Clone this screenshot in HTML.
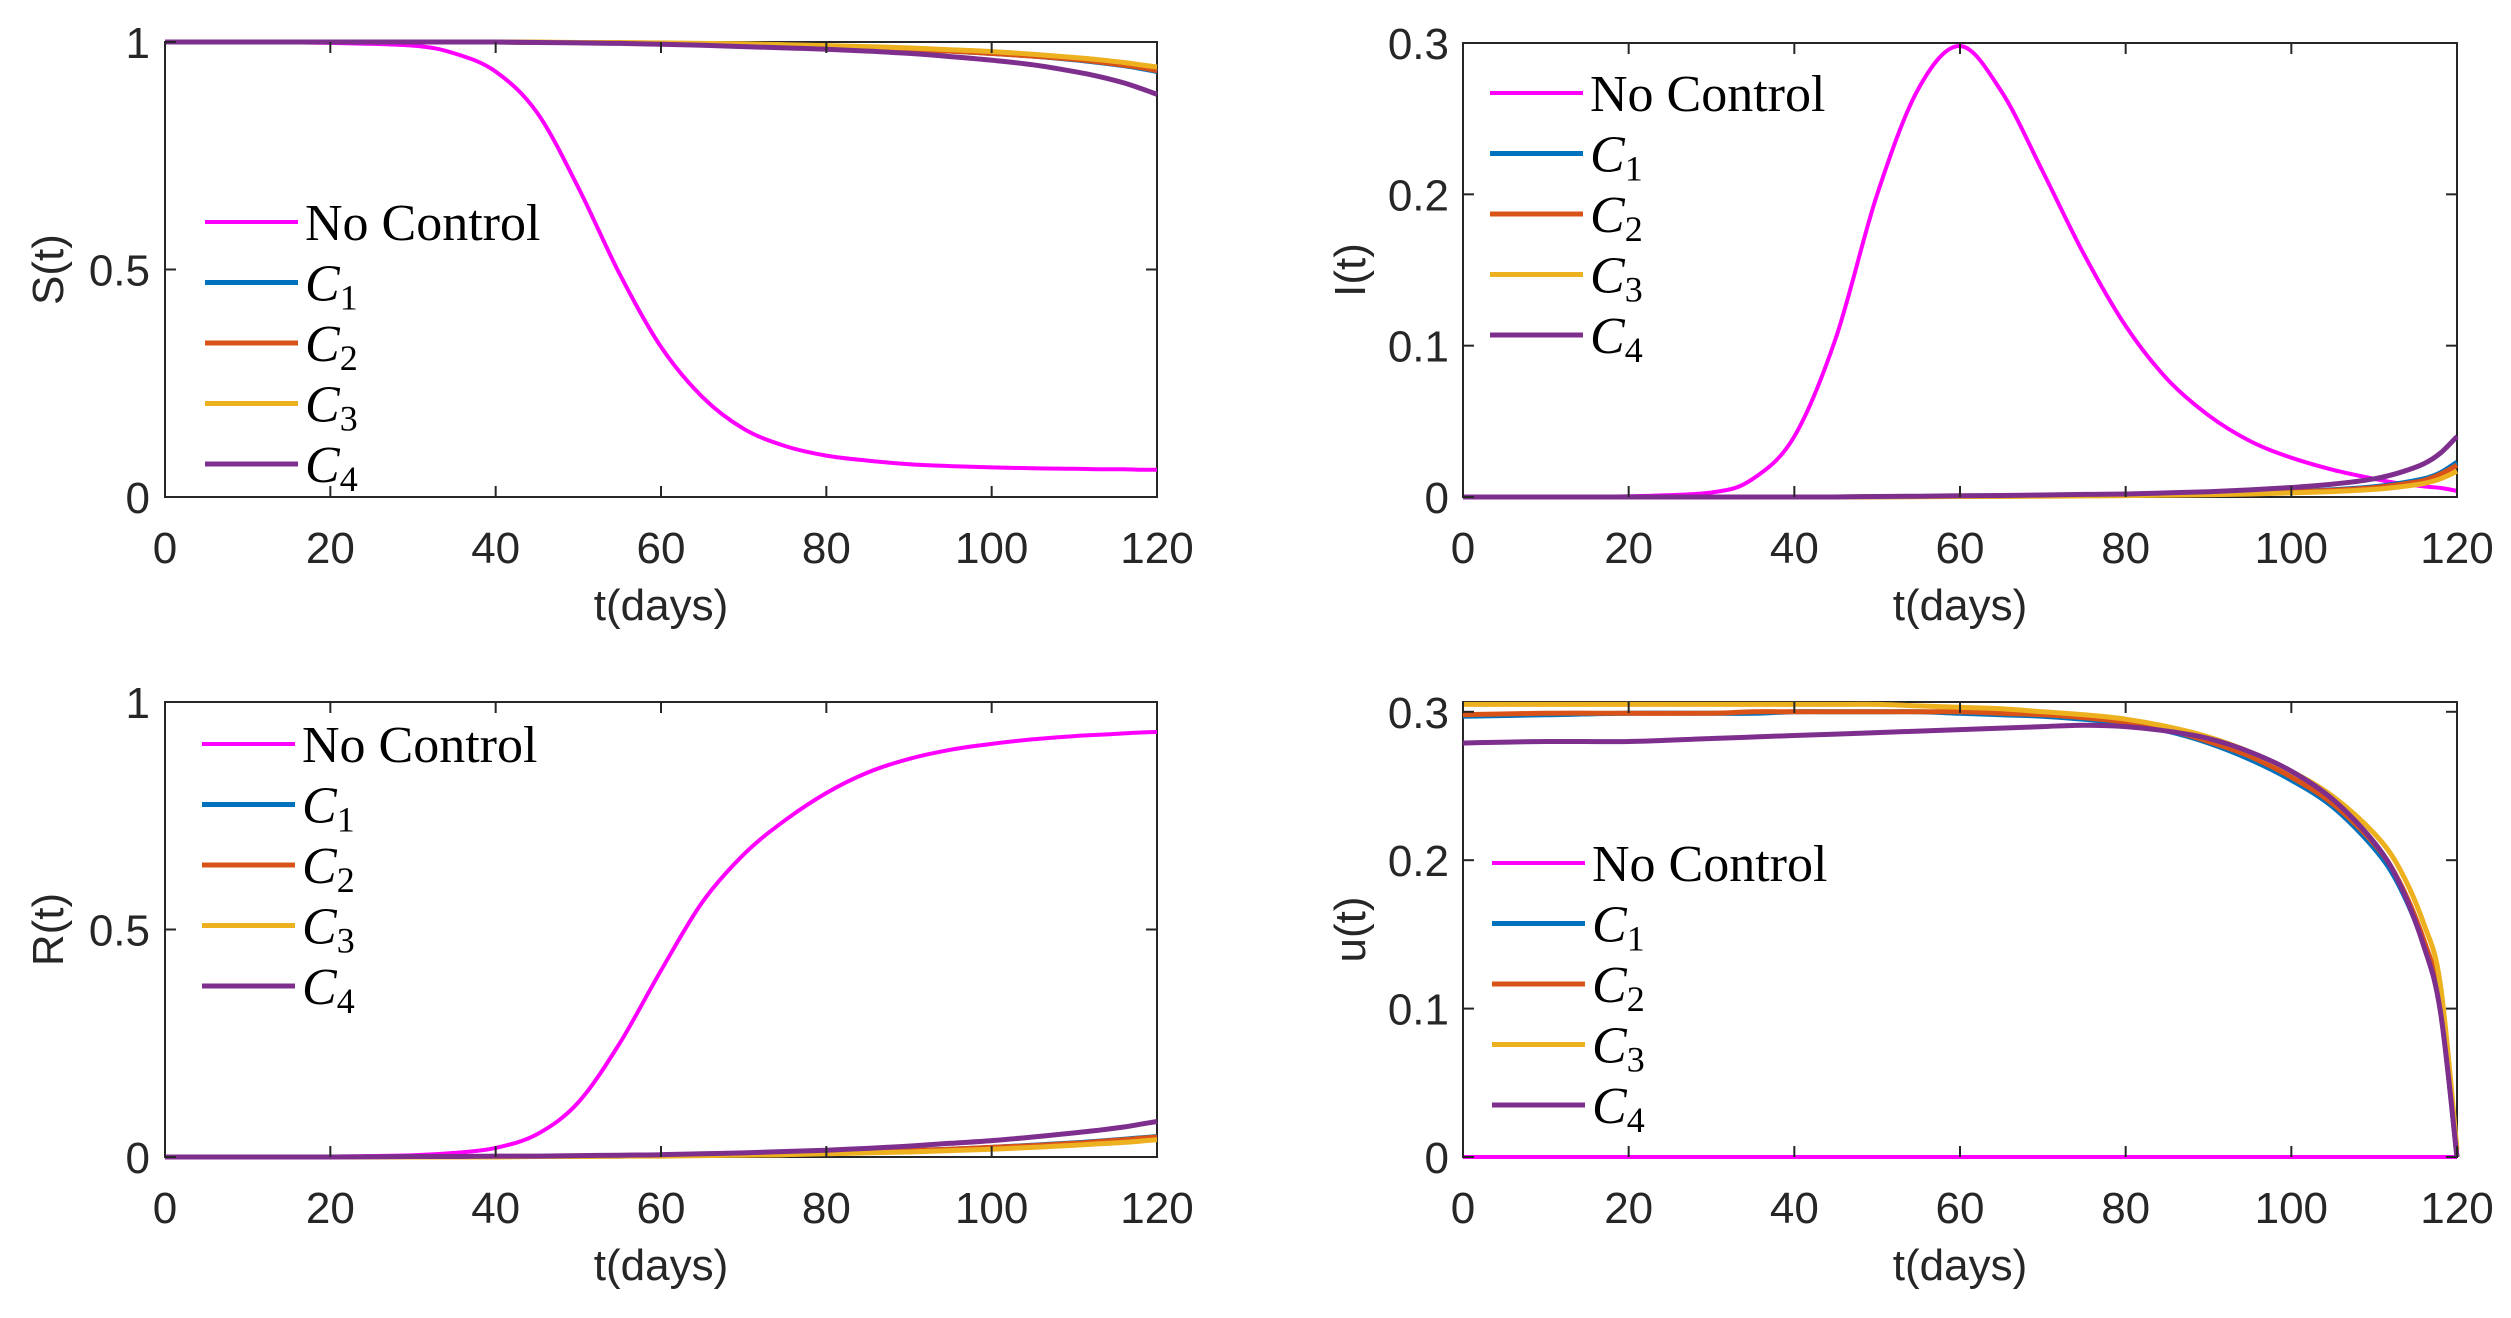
<!DOCTYPE html>
<html><head><meta charset="utf-8"><style>
html,body{margin:0;padding:0;background:#fff;}
svg{display:block;}
.tk{font-family:"Liberation Sans",sans-serif;font-size:44px;fill:#262626;}
.lg{font-family:"Liberation Serif",serif;font-size:52px;fill:#000;}
</style></head><body>
<svg id="fig" width="2511" height="1318" viewBox="0 0 2511 1318" xmlns="http://www.w3.org/2000/svg"></svg>
<script>
const T = [0,10,20,30,35,40,45,50,55,60,65,70,75,80,85,90,95,100,105,110,113,116,118,120];
const seriesNames = ["No Control","C1","C2","C3","C4"];
const S_nc = [1,1,0.998,0.992,0.975,0.935,0.845,0.68,0.49,0.33,0.22,0.15,0.112,0.091,0.08,0.072,0.068,0.065,0.063,0.062,0.061,0.061,0.06,0.06];
const S_c1 = [1,1,1,1,1,1,0.999,0.999,0.998,0.997,0.996,0.994,0.992,0.99,0.987,0.984,0.98,0.975,0.969,0.961,0.955,0.948,0.942,0.935];
const S_c2 = [1,1,1,1,1,1,0.999,0.999,0.998,0.997,0.996,0.994,0.992,0.99,0.987,0.984,0.98,0.975,0.969,0.962,0.956,0.949,0.944,0.937];
const S_c3 = [1,1,1,1,1,1,1,0.999,0.999,0.998,0.997,0.996,0.994,0.992,0.99,0.987,0.983,0.979,0.973,0.966,0.961,0.955,0.95,0.945];
const S_c4 = [1,1,1,1,1,1,0.999,0.998,0.997,0.995,0.993,0.99,0.987,0.984,0.98,0.975,0.968,0.96,0.95,0.935,0.924,0.91,0.898,0.885];
const I_nc = [0,0,0.0005,0.003,0.012,0.04,0.105,0.2,0.27,0.298,0.268,0.215,0.16,0.113,0.078,0.054,0.037,0.026,0.018,0.012,0.009,0.007,0.006,0.004];
const I_c1 = [0,0,0,0,0,0,0,0.0002,0.0003,0.0004,0.0006,0.0008,0.001,0.0012,0.0016,0.002,0.0027,0.0036,0.0048,0.0068,0.009,0.012,0.016,0.023];
const I_c2 = [0,0,0,0,0,0,0,0.0002,0.0003,0.0004,0.0005,0.0007,0.0009,0.0011,0.0014,0.0018,0.0025,0.0033,0.0044,0.0062,0.0082,0.011,0.015,0.021];
const I_c3 = [0,0,0,0,0,0,0,0.0001,0.0002,0.0003,0.0004,0.0005,0.0007,0.0009,0.0012,0.0015,0.002,0.0027,0.0036,0.005,0.0066,0.009,0.012,0.017];
const I_c4 = [0,0,0,0,0,0,0,0.0003,0.0005,0.0008,0.001,0.0013,0.0017,0.002,0.0027,0.0035,0.0047,0.0063,0.0085,0.012,0.016,0.022,0.029,0.04];
const R_nc = [0,0,0.001,0.004,0.009,0.02,0.05,0.12,0.25,0.41,0.56,0.665,0.74,0.8,0.845,0.875,0.895,0.908,0.918,0.925,0.928,0.931,0.933,0.934];
const R_c1 = [0,0,0,0,0,0.001,0.001,0.002,0.002,0.003,0.004,0.005,0.007,0.009,0.011,0.014,0.017,0.021,0.026,0.031,0.035,0.039,0.042,0.045];
const R_c2 = [0,0,0,0,0,0.001,0.001,0.002,0.002,0.003,0.004,0.005,0.007,0.009,0.011,0.014,0.017,0.021,0.025,0.03,0.034,0.038,0.041,0.044];
const R_c3 = [0,0,0,0,0,0,0.001,0.001,0.002,0.002,0.003,0.004,0.005,0.007,0.009,0.011,0.014,0.017,0.021,0.026,0.029,0.032,0.035,0.038];
const R_c4 = [0,0,0,0.001,0.001,0.002,0.002,0.003,0.004,0.005,0.007,0.009,0.012,0.015,0.019,0.024,0.03,0.036,0.044,0.053,0.059,0.066,0.072,0.078];
const U_nc = [0,0,0,0,0,0,0,0,0,0,0,0,0,0,0,0,0,0,0,0,0,0,0,0];
const U_c1 = [0.297,0.298,0.299,0.299,0.299,0.3,0.3,0.3,0.3,0.299,0.298,0.297,0.295,0.292,0.287,0.279,0.268,0.254,0.236,0.208,0.183,0.143,0.1,0];
const U_c2 = [0.298,0.299,0.299,0.299,0.3,0.3,0.3,0.3,0.3,0.3,0.299,0.298,0.296,0.293,0.288,0.28,0.27,0.256,0.238,0.211,0.186,0.146,0.104,0];
const U_c3 = [0.305,0.305,0.305,0.305,0.305,0.305,0.305,0.305,0.304,0.303,0.302,0.3,0.298,0.295,0.29,0.283,0.273,0.26,0.243,0.218,0.195,0.157,0.116,0.005];
const U_c4 = [0.279,0.28,0.28,0.282,0.283,0.284,0.285,0.286,0.287,0.288,0.289,0.29,0.291,0.29,0.287,0.282,0.273,0.26,0.241,0.212,0.185,0.142,0.098,0];
const xTicks = [0,20,40,60,80,100,120];
const yTicksS = [0,0.5,1];
const yTicksI = [0,0.1,0.2,0.3];
const yTicksU = [0,0.1,0.2,0.3];

const NS="http://www.w3.org/2000/svg";
const svg=document.getElementById('fig');
const colors=["#FF00FF","#0072BD","#D95319","#EDB120","#7E2F8E"];
const widths=[4,5,5,5,5];
function mk(tag,attrs,parent){const e=document.createElementNS(NS,tag);for(const k in attrs)e.setAttribute(k,attrs[k]);(parent||svg).appendChild(e);return e;}

const panels=[
 {id:"s",L:165,R:1157,Tp:42,B:497,ymax:1,yt:yTicksS,yl:"S(t)",data:[S_nc,S_c1,S_c2,S_c3,S_c4],ylx:48,tlx:150,legX:205,legY:222},
 {id:"i",L:1463,R:2457,Tp:43,B:497,ymax:0.3,yt:yTicksI,yl:"I(t)",data:[I_nc,I_c1,I_c2,I_c3,I_c4],ylx:1350,tlx:1449,legX:1490,legY:93},
 {id:"r",L:165,R:1157,Tp:702,B:1157,ymax:1,yt:yTicksS,yl:"R(t)",data:[R_nc,R_c1,R_c2,R_c3,R_c4],ylx:48,tlx:150,legX:202,legY:744},
 {id:"u",L:1463,R:2457,Tp:702,B:1157,ymax:0.3066,yt:yTicksU,yl:"u(t)",data:[U_nc,U_c1,U_c2,U_c3,U_c4],ylx:1350,tlx:1449,legX:1492,legY:863}
];
panels.forEach(p=>{
 const g=mk('g',{});
 
 
 const xs=t=>p.L+(t/120)*(p.R-p.L);
 const ys=v=>p.B-(v/p.ymax)*(p.B-p.Tp);
 const clipId='clip-'+p.id;
 const cp=mk('clipPath',{id:clipId},g);mk('rect',{x:p.L,y:p.Tp-4,width:p.R-p.L+4,height:p.B-p.Tp+8},cp);
 // axes box
 const box=mk('rect',{x:p.L,y:p.Tp,width:p.R-p.L,height:p.B-p.Tp,fill:'none',stroke:'#262626','stroke-width':2},g);
 
 
 // series
 p.data.forEach((arr,si)=>{
  const pts=T.map((t,i)=>[xs(t),ys(arr[i])]);
  let d="M"+pts[0][0].toFixed(1)+","+pts[0][1].toFixed(1);
  for(let i=0;i<pts.length-1;i++){
   const p0=pts[Math.max(0,i-1)],p1=pts[i],p2=pts[i+1],p3=pts[Math.min(pts.length-1,i+2)];
   const c1=[p1[0]+(p2[0]-p0[0])/6,p1[1]+(p2[1]-p0[1])/6];
   const c2=[p2[0]-(p3[0]-p1[0])/6,p2[1]-(p3[1]-p1[1])/6];
   d+=" C"+c1[0].toFixed(1)+","+c1[1].toFixed(1)+" "+c2[0].toFixed(1)+","+c2[1].toFixed(1)+" "+p2[0].toFixed(1)+","+p2[1].toFixed(1);
  }
  const path=mk('path',{d:d,fill:'none',stroke:colors[si],'stroke-width':widths[si],'clip-path':'url(#'+clipId+')'},g);
  
  
 });
 xTicks.forEach(t=>{
  const x=xs(t);
  mk('line',{x1:x,y1:p.B,x2:x,y2:p.B-11,stroke:'#262626','stroke-width':2},g);
  mk('line',{x1:x,y1:p.Tp,x2:x,y2:p.Tp+11,stroke:'#262626','stroke-width':2},g);
  const tx=mk('text',{x:x,y:p.B+66,'text-anchor':'middle',class:'tk'},g);
  tx.textContent=t;
  
  
 });
 p.yt.forEach(v=>{
  const y=ys(v);
  mk('line',{x1:p.L,y1:y,x2:p.L+11,y2:y,stroke:'#262626','stroke-width':2},g);
  mk('line',{x1:p.R,y1:y,x2:p.R-11,y2:y,stroke:'#262626','stroke-width':2},g);
  const tx=mk('text',{x:p.tlx,y:y+16,'text-anchor':'end',class:'tk'},g);
  tx.textContent=v;
  
  
 });
 const xl=mk('text',{x:(p.L+p.R)/2,y:p.B+123,'text-anchor':'middle',class:'tk'},g);
 xl.textContent='t(days)';
 
 
 const cy=(p.Tp+p.B)/2;
 const yl=mk('text',{x:p.ylx,y:cy,'text-anchor':'middle',class:'tk',transform:'rotate(-90 '+p.ylx+' '+cy+')'},g);
 yl.setAttribute('dy','15');
 yl.textContent=p.yl;
 
 
 // legend
 const lg=mk('g',{},g);
 
 
 seriesNames.forEach((n,i)=>{
  const y=p.legY+i*60.5;
  const e=mk('g',{},lg);
  
  
  mk('line',{x1:p.legX,y1:y,x2:p.legX+93,y2:y,stroke:colors[i],'stroke-width':widths[i]},e);
  const tx=mk('text',{x:p.legX+100,y:y+18,class:'lg'},e);
  if(i===0){tx.textContent='No Control';}
  else{
   const a=mk('tspan',{'font-style':'italic'},tx);a.textContent='C';
   const b=mk('tspan',{'font-size':'36','dy':'9'},tx);b.textContent=String(i);
  }
 });
});
</script>
</body></html>
